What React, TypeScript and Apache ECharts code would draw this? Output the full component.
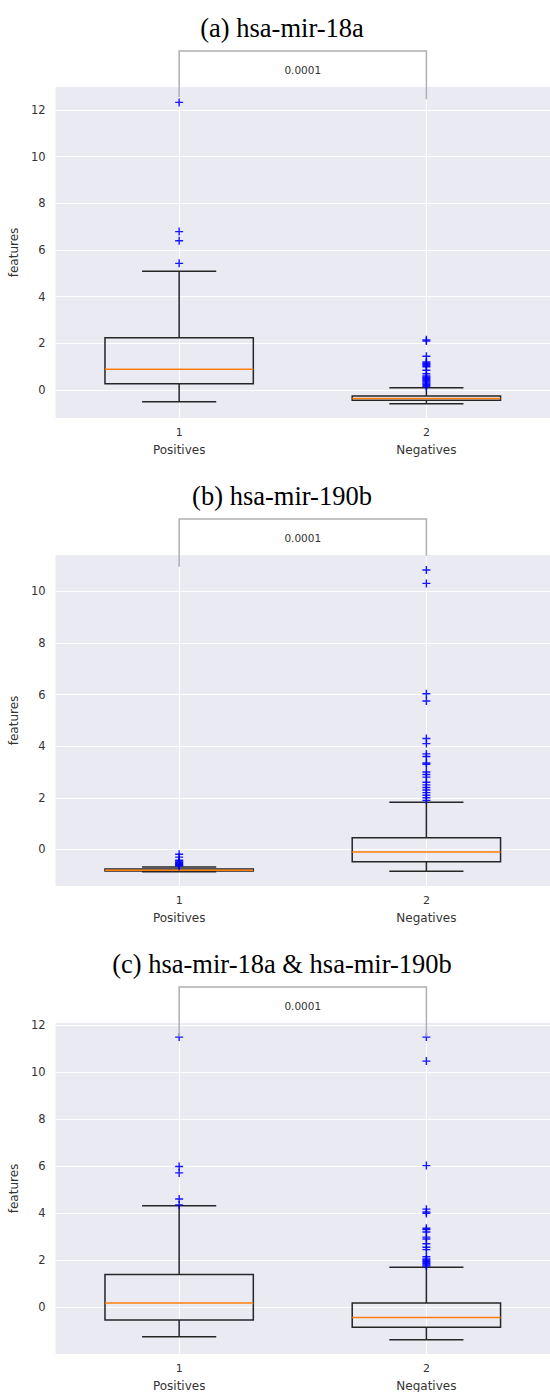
import React, { useEffect, useRef } from 'react';
import * as echarts from 'echarts';

// ---------- data ----------
const TITLES = ['(a) hsa-mir-18a', '(b) hsa-mir-190b', '(c) hsa-mir-18a & hsa-mir-190b'];
const CATEGORIES = ['Positives', 'Negatives'];
const X_TICK_LABELS = ['1', '2'];
const Y_TICKS = [0, 2, 4, 6, 8, 10, 12];
const Y_NAME = 'features';
const P_VALUE = '0.0001';

// box stats: [lower whisker, Q1, median, Q3, upper whisker]
const aPositives = [-0.5, 0.27, 0.89, 2.24, 5.09];
const aPositivesOut = [5.43, 6.4, 6.79, 12.33];
const aNegatives = [-0.59, -0.44, -0.36, -0.26, 0.1];
const aNegativesOut = [0.15, 0.2, 0.25, 0.3, 0.35, 0.4, 0.45, 0.5, 0.55, 0.6, 0.7, 0.85, 1.0, 1.05, 1.1, 1.15, 1.2, 1.45, 2.1, 2.15];

const bPositives = [-0.87, -0.84, -0.81, -0.76, -0.68];
const bPositivesOut = [-0.65, -0.62, -0.6, -0.58, -0.55, -0.52, -0.5, -0.45, -0.42, -0.3, -0.19];
const bNegatives = [-0.85, -0.48, -0.1, 0.45, 1.83];
const bNegativesOut = [1.9, 2.0, 2.1, 2.2, 2.3, 2.4, 2.5, 2.6, 2.8, 2.9, 3.0, 3.3, 3.35, 3.6, 3.7, 4.1, 4.3, 5.75, 6.03, 10.31, 10.83];

const cPositives = [-1.25, -0.54, 0.18, 1.39, 4.31];
const cPositivesOut = [4.35, 4.6, 5.71, 5.98, 11.48];
const cNegatives = [-1.38, -0.85, -0.43, 0.18, 1.7];
const cNegativesOut = [1.75, 1.8, 1.85, 1.9, 1.95, 2.0, 2.05, 2.15, 2.45, 2.55, 2.7, 2.9, 2.98, 3.2, 3.3, 3.36, 3.99, 4.05, 4.17, 6.02, 10.46, 11.48];

// bracket leg ends (data values) [left, right]
const bracketLegs = [
  [12.56, 12.47],
  [10.95, 11.38],
  [11.5, 11.5],
];

// ---------- layout / style ----------
const PANEL_TOPS = [87, 555, 1023];
const PANEL_HEIGHT = 331;
const Y_MIN = [-1.2, -1.42, -1.985];
const Y_MAX = [12.99, 11.41, 12.08];
const BOX_HALF = 0.3;
const CAP_HALF = 0.15;
const BOX_COLOR = '#262626';
const MEDIAN_COLOR = '#ff7f0e';
const FLIER_COLOR = '#0000ff';
const BG = '#EAEAF2';
const TEXT = '#333333';
const PLUS = 'path://M3.3,0 H4.7 V3.3 H8 V4.7 H4.7 V8 H3.3 V4.7 H0 V3.3 H3.3 Z';

const panels = [
  { boxes: [aPositives, aNegatives], outs: [aPositivesOut, aNegativesOut] },
  { boxes: [bPositives, bNegatives], outs: [bPositivesOut, bNegativesOut] },
  { boxes: [cPositives, cNegatives], outs: [cPositivesOut, cNegativesOut] },
];

export default function App() {
  const ref = useRef<HTMLDivElement>(null);
  useEffect(() => {
    const chart = echarts.init(ref.current!, null, { renderer: 'svg' });

    const grid = panels.map((_, i) => ({
      left: 54,
      width: 498,
      top: PANEL_TOPS[i],
      height: PANEL_HEIGHT,
      show: true,
      backgroundColor: BG,
      borderWidth: 0,
    }));

    const xAxis = panels.map((_, i) => ({
      type: 'value',
      gridIndex: i,
      min: 0.5,
      max: 2.5,
      axisLine: { show: false },
      axisTick: { show: false, customValues: [1, 2] },
      axisLabel: {
        customValues: [1, 2],
        margin: 7,
        formatter: (v: number) => {
          const k = Math.round(v) - 1;
          return `{n|${X_TICK_LABELS[k]}}\n{c|${CATEGORIES[k]}}`;
        },
        rich: {
          n: { fontSize: 11, color: TEXT, lineHeight: 15, fontFamily: 'DejaVu Sans' },
          c: { fontSize: 12, color: TEXT, lineHeight: 19, fontFamily: 'DejaVu Sans' },
        },
      },
      splitLine: { show: true, lineStyle: { color: '#ffffff', width: 1 } },
    }));

    const yAxis = panels.map((_, i) => ({
      type: 'value',
      gridIndex: i,
      min: Y_MIN[i],
      max: Y_MAX[i],
      name: Y_NAME,
      nameLocation: 'middle',
      nameGap: 31,
      nameRotate: 90,
      nameTextStyle: { fontSize: 12, color: TEXT, fontFamily: 'DejaVu Sans' },
      axisLine: { show: false },
      axisTick: { show: false, customValues: Y_TICKS },
      axisLabel: { customValues: Y_TICKS, fontSize: 11.5, color: TEXT, margin: 10, fontFamily: 'DejaVu Sans' },
      splitLine: { show: true, lineStyle: { color: '#ffffff', width: 1 } },
    }));

    const series: any[] = [];
    panels.forEach((p, i) => {
      series.push({
        type: 'custom',
        xAxisIndex: i,
        yAxisIndex: i,
        data: p.boxes.map((b, k) => [k + 1, ...b]),
        encode: { x: 0, y: [1, 2, 3, 4, 5] },
        renderItem: (_params: any, api: any) => {
          const x = api.value(0);
          const lo = api.value(1), q1 = api.value(2), med = api.value(3), q3 = api.value(4), hi = api.value(5);
          const c = (xx: number, yy: number) => api.coord([xx, yy]);
          const line = (a: number[], b: number[], color: string) => ({
            type: 'line',
            shape: { x1: a[0], y1: a[1], x2: b[0], y2: b[1] },
            style: { stroke: color, lineWidth: 1.5 },
          });
          const tl = c(x - BOX_HALF, q3);
          const br = c(x + BOX_HALF, q1);
          return {
            type: 'group',
            children: [
              line(c(x, lo), c(x, q1), BOX_COLOR),
              line(c(x, q3), c(x, hi), BOX_COLOR),
              line(c(x - CAP_HALF, lo), c(x + CAP_HALF, lo), BOX_COLOR),
              line(c(x - CAP_HALF, hi), c(x + CAP_HALF, hi), BOX_COLOR),
              {
                type: 'rect',
                shape: { x: tl[0], y: tl[1], width: br[0] - tl[0], height: br[1] - tl[1] },
                style: { fill: 'none', stroke: BOX_COLOR, lineWidth: 1.5 },
              },
              line(c(x - BOX_HALF, med), c(x + BOX_HALF, med), MEDIAN_COLOR),
            ],
          };
        },
        z: 2,
      });
      series.push({
        type: 'scatter',
        xAxisIndex: i,
        yAxisIndex: i,
        symbol: PLUS,
        symbolSize: 8,
        itemStyle: { color: FLIER_COLOR, opacity: 0.9 },
        data: p.outs.flatMap((arr, k) => arr.map((v) => [k + 1, v])),
        z: 3,
      });
    });

    chart.setOption({
      animation: false,
      textStyle: { fontFamily: 'DejaVu Sans' },
      grid,
      xAxis,
      yAxis,
      series,
    });

    const graphic: any[] = [];
    panels.forEach((_, i) => {
      const [xL, yL] = chart.convertToPixel({ gridIndex: i } as any, [1, bracketLegs[i][0]]) as number[];
      const [xR, yR] = chart.convertToPixel({ gridIndex: i } as any, [2, bracketLegs[i][1]]) as number[];
      const top = PANEL_TOPS[i] - 36;
      graphic.push({
        type: 'polyline',
        shape: { points: [[xL, yL], [xL, top], [xR, top], [xR, yR]] },
        style: { stroke: '#b0b0b0', lineWidth: 1.5, fill: 'none' },
        z: 10,
      });
      graphic.push({
        type: 'text',
        x: (xL + xR) / 2,
        y: PANEL_TOPS[i] - 17,
        style: { text: P_VALUE, fontSize: 10.5, fill: TEXT, align: 'center', verticalAlign: 'middle', fontFamily: 'DejaVu Sans' },
        z: 10,
      });
      graphic.push({
        type: 'text',
        x: 282,
        y: PANEL_TOPS[i] - 59,
        style: { text: TITLES[i], fontSize: 26.5, fill: '#000', align: 'center', verticalAlign: 'middle', fontFamily: 'Liberation Serif' },
        z: 10,
      });
    });
    chart.setOption({ graphic });

    return () => chart.dispose();
  }, []);

  return <div ref={ref} style={{ position: 'absolute', left: 0, top: 0, width: 550, height: 1392, background: '#fff' }} />;
}
